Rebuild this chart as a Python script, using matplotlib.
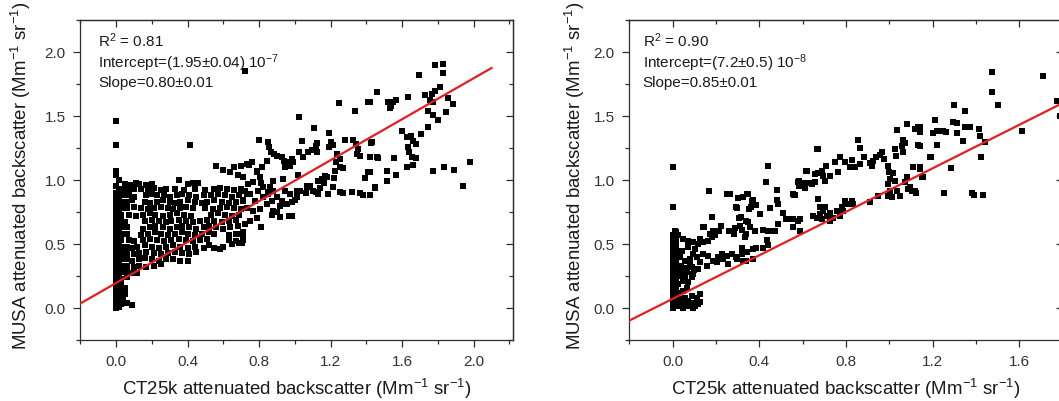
import matplotlib
matplotlib.use("Agg")
import matplotlib.pyplot as plt
from matplotlib.ticker import FixedLocator, MultipleLocator

plt.rcParams['font.family'] = ['Liberation Sans', 'DejaVu Sans']
plt.rcParams['mathtext.default'] = 'regular'

# ---------------- data ----------------
left_fit = (0.195, 0.80)     # intercept, slope (Mm-1 sr-1)
right_fit = (0.072, 0.85)
fit_x = [-0.2, 2.1]

left_xticks = [0.0, 0.4, 0.8, 1.2, 1.6, 2.0]
right_xticks = [0.0, 0.4, 0.8, 1.2, 1.6]
yticks = [0.0, 0.5, 1.0, 1.5, 2.0]

left_text = ["R$^{2}$ = 0.81", "Intercept=(1.95\u00b10.04) 10$^{-7}$", "Slope=0.80\u00b10.01"]
right_text = ["R$^{2}$ = 0.90", "Intercept=(7.2\u00b10.5) 10$^{-8}$", "Slope=0.85\u00b10.01"]

xlabel = "CT25k attenuated backscatter (Mm$^{-1}$ sr$^{-1}$)"
ylabel = "MUSA attenuated backscatter (Mm$^{-1}$ sr$^{-1}$)"

# left panel: saturated band at CT25k ~ 0
left_band_a_y = [0.00, 0.03, 0.07, 0.11, 0.15, 0.19, 0.22, 0.26, 0.30, 0.34, 0.38, 0.42, 0.46,
                 0.50, 0.54, 0.58, 0.62, 0.66, 0.70, 0.74, 0.78, 0.82, 0.86, 0.90, 0.95,
                 1.04, 1.07, 1.27, 1.46]
left_band_b_y = [0.01, 0.05, 0.09, 0.13, 0.17, 0.21, 0.25, 0.29, 0.33, 0.37, 0.41, 0.45, 0.49,
                 0.53, 0.57, 0.61, 0.65, 0.69, 0.73, 0.77, 0.81, 0.85, 0.89, 0.93, 1.00]

# left panel: dense cloud (x, y)
left_cloud = [
    (0.05, 0.97), (0.08, 0.96), (0.11, 0.98), (0.13, 0.97), (0.17, 0.96), (0.20, 0.97), (0.35, 1.00),
    (0.40, 0.97), (0.43, 0.98), (0.46, 0.98),
    (0.04, 0.93), (0.07, 0.92), (0.10, 0.93), (0.14, 0.93), (0.18, 0.92), (0.21, 0.94), (0.25, 0.92),
    (0.28, 0.93), (0.33, 0.93), (0.38, 0.92), (0.44, 0.93), (0.50, 0.92), (0.55, 0.93), (0.58, 0.94),
    (0.62, 0.93), (0.66, 0.92), (0.70, 0.93), (0.74, 0.97),
    (0.04, 0.88), (0.07, 0.88), (0.10, 0.87), (0.17, 0.88), (0.20, 0.89), (0.23, 0.88), (0.27, 0.88),
    (0.30, 0.87), (0.34, 0.88), (0.37, 0.89), (0.41, 0.88), (0.45, 0.87), (0.49, 0.88), (0.53, 0.88),
    (0.57, 0.89), (0.61, 0.88), (0.65, 0.87), (0.69, 0.88), (0.73, 0.89),
    (0.03, 0.83), (0.06, 0.83), (0.09, 0.84), (0.16, 0.83), (0.19, 0.82), (0.23, 0.83), (0.26, 0.84),
    (0.30, 0.83), (0.33, 0.82), (0.36, 0.83), (0.40, 0.84), (0.44, 0.83), (0.48, 0.82), (0.51, 0.83),
    (0.55, 0.84), (0.59, 0.83), (0.63, 0.82), (0.67, 0.83), (0.71, 0.84),
    (0.03, 0.78), (0.06, 0.78), (0.10, 0.79), (0.14, 0.78), (0.18, 0.77), (0.21, 0.78), (0.25, 0.79),
    (0.29, 0.78), (0.32, 0.77), (0.36, 0.78), (0.39, 0.79), (0.43, 0.78), (0.50, 0.78), (0.54, 0.77),
    (0.58, 0.78), (0.62, 0.79), (0.66, 0.78), (0.70, 0.77),
    (0.03, 0.73), (0.07, 0.73), (0.11, 0.72), (0.15, 0.73), (0.19, 0.74), (0.22, 0.73), (0.26, 0.72),
    (0.30, 0.73), (0.34, 0.74), (0.38, 0.73), (0.42, 0.72), (0.53, 0.73), (0.57, 0.74), (0.61, 0.73),
    (0.65, 0.72), (0.69, 0.73),
    (0.03, 0.68), (0.05, 0.67), (0.16, 0.68), (0.20, 0.69), (0.24, 0.68), (0.28, 0.67), (0.31, 0.68),
    (0.35, 0.69), (0.39, 0.68), (0.43, 0.67), (0.47, 0.68), (0.51, 0.69), (0.55, 0.68), (0.59, 0.67),
    (0.63, 0.68), (0.67, 0.69),
    (0.03, 0.63), (0.06, 0.63), (0.15, 0.62), (0.19, 0.63), (0.22, 0.64), (0.26, 0.63), (0.30, 0.62),
    (0.34, 0.63), (0.37, 0.64), (0.41, 0.63), (0.45, 0.62), (0.49, 0.63), (0.52, 0.64), (0.56, 0.63),
    (0.60, 0.62), (0.64, 0.63), (0.68, 0.64),
    (0.03, 0.58), (0.06, 0.58), (0.14, 0.57), (0.18, 0.58), (0.22, 0.59), (0.25, 0.58), (0.29, 0.57),
    (0.33, 0.58), (0.37, 0.59), (0.40, 0.58), (0.44, 0.57), (0.48, 0.58), (0.52, 0.59), (0.55, 0.58),
    (0.63, 0.57), (0.67, 0.58), (0.71, 0.59),
    (0.03, 0.53), (0.07, 0.53), (0.10, 0.52), (0.15, 0.53), (0.19, 0.54), (0.23, 0.53), (0.27, 0.52),
    (0.31, 0.53), (0.35, 0.54), (0.39, 0.53), (0.43, 0.52), (0.47, 0.53), (0.51, 0.54), (0.63, 0.53),
    (0.67, 0.52), (0.71, 0.53),
    (0.03, 0.48), (0.06, 0.48), (0.09, 0.47), (0.12, 0.48), (0.16, 0.49), (0.20, 0.48), (0.24, 0.47),
    (0.28, 0.48), (0.32, 0.49), (0.36, 0.48), (0.40, 0.47), (0.44, 0.48), (0.49, 0.47), (0.52, 0.49),
    (0.55, 0.47), (0.58, 0.46), (0.60, 0.48), (0.65, 0.50), (0.69, 0.51),
    (0.03, 0.43), (0.06, 0.43), (0.10, 0.42), (0.13, 0.43), (0.17, 0.44), (0.21, 0.43), (0.25, 0.42),
    (0.29, 0.43), (0.33, 0.44), (0.37, 0.43), (0.41, 0.42), (0.45, 0.44),
    (0.03, 0.38), (0.06, 0.38), (0.09, 0.37), (0.13, 0.38), (0.16, 0.39), (0.20, 0.38), (0.24, 0.37),
    (0.28, 0.38), (0.32, 0.38), (0.36, 0.37), (0.40, 0.37),
    (0.03, 0.33), (0.06, 0.33), (0.10, 0.32), (0.13, 0.33), (0.17, 0.32), (0.21, 0.33), (0.25, 0.34),
    (0.03, 0.28), (0.06, 0.28), (0.09, 0.27), (0.12, 0.27),
    (0.03, 0.23), (0.06, 0.24), (0.03, 0.18), (0.05, 0.16), (0.03, 0.13), (0.05, 0.11),
    (0.04, 0.07), (0.03, 0.03), (0.06, 0.04), (0.09, 0.02),
]

# left panel: mid / upper region (x, y)
left_mid = [
    (0.72, 1.855), (0.414, 1.276), (0.56, 1.11), (0.60, 1.08), (0.64, 1.06), (0.66, 1.10), (0.70, 1.11),
    (0.745, 1.12), (0.68, 1.04), (0.79, 1.06), (0.81, 0.98), (0.85, 0.91), (0.88, 0.99),
    (0.731, 1.125), (0.759, 1.138), (0.787, 1.073), (0.815, 1.099), (0.843, 1.151), (0.805, 1.020),
    (0.768, 0.981), (0.712, 1.020), (0.721, 0.916), (0.749, 0.890), (0.796, 0.916), (0.824, 0.942),
    (0.861, 0.942), (0.880, 0.916), (0.899, 0.864), (0.927, 0.838), (0.955, 0.812), (0.983, 0.825),
    (0.917, 0.799), (0.871, 0.838), (0.843, 0.812), (0.805, 0.773), (0.768, 0.760), (0.731, 0.785),
    (0.712, 0.838), (0.777, 0.838), (0.824, 0.864), (0.852, 0.890), (0.936, 1.008), (0.945, 0.916),
    (0.973, 0.890), (0.749, 0.681), (0.787, 0.707), (0.721, 0.655), (0.694, 0.577), (1.011, 0.916),
    (1.011, 0.864), (0.809, 0.629), (0.986, 0.720), (0.917, 0.713), (0.876, 0.754), (0.712, 0.551),
    (0.703, 0.511), (0.87, 0.73),
    (0.800, 1.316), (1.040, 1.302), (1.023, 1.496), (1.107, 1.404), (1.191, 1.365), (1.126, 1.287),
    (1.117, 1.269), (1.201, 1.295), (1.215, 1.276), (1.193, 1.255), (1.283, 1.313), (1.327, 1.313),
    (1.342, 1.282), (1.355, 1.243), (1.346, 1.204), (1.365, 1.190), (1.424, 1.292), (0.857, 1.255),
    (0.865, 1.216), (0.884, 1.204), (0.899, 1.190), (0.927, 1.177), (0.941, 1.151), (0.964, 1.138),
    (0.982, 1.164), (0.973, 1.112), (0.992, 1.138), (1.022, 1.222), (1.048, 1.182), (1.076, 1.216),
    (1.094, 1.235), (1.122, 1.216), (1.234, 1.204), (1.253, 1.164), (1.230, 1.138), (1.253, 1.099),
    (1.271, 1.094), (1.225, 1.073), (1.221, 1.016), (1.408, 1.065), (1.393, 1.016), (1.449, 0.937),
    (1.461, 1.177), (0.85, 1.30), (0.945, 1.10), (1.02, 1.04),
    (1.029, 0.916), (1.067, 0.942), (1.085, 0.955), (1.103, 0.916), (1.131, 0.890), (1.150, 1.008),
    (1.178, 1.026), (1.187, 0.890), (1.215, 0.942), (1.253, 0.903), (1.271, 0.895), (1.318, 0.903),
    (1.365, 0.895), (1.383, 0.882), (1.421, 0.882), (1.131, 0.994), (1.169, 1.034), (1.14, 0.94),
    (1.165, 0.98), (1.07, 0.95), (1.12, 0.91), (1.06, 0.90), (0.90, 0.75), (0.97, 0.72), (0.94, 0.81),
    (1.00, 0.84),
]

# left panel: high-x region (x, y)
left_high = [
    (1.249, 1.600), (1.337, 1.543), (1.408, 1.613), (1.784, 1.895), (1.827, 1.908), (1.827, 1.835),
    (1.696, 1.817), (1.458, 1.691), (1.812, 1.725), (1.784, 1.694), (1.766, 1.673), (1.728, 1.668),
    (1.756, 1.626), (1.771, 1.608), (1.859, 1.642), (1.883, 1.595), (1.635, 1.652), (1.523, 1.608),
    (1.536, 1.582), (1.551, 1.608), (1.566, 1.626), (1.532, 1.564), (1.421, 1.608), (1.743, 1.543),
    (1.775, 1.504), (1.799, 1.470), (1.844, 1.529), (1.747, 1.412), (1.704, 1.360), (1.598, 1.381),
    (1.626, 1.334), (1.648, 1.347), (1.663, 1.308), (1.678, 1.282), (1.635, 1.255), (1.640, 1.216),
    (1.654, 1.177), (1.678, 1.172), (1.663, 1.120), (1.626, 1.099), (1.430, 1.294), (1.421, 1.177),
    (1.467, 1.172), (1.556, 1.172), (1.421, 1.060), (1.517, 1.073), (1.566, 1.039), (1.517, 0.989),
    (1.449, 0.942), (1.421, 0.885), (1.775, 1.073), (1.834, 1.099), (1.892, 1.081), (1.980, 1.143),
    (1.943, 0.950),
]

# right panel: band at CT25k ~ 0
right_band_a_y = [0.00, 0.04, 0.08, 0.12, 0.16, 0.20, 0.24, 0.28, 0.32, 0.36, 0.40, 0.44, 0.48,
                  0.52, 0.57, 0.79, 1.10]
right_band_b_y = [0.02, 0.06, 0.10, 0.14, 0.18, 0.22, 0.26, 0.30, 0.34, 0.38, 0.42, 0.46, 0.50,
                  0.55, 0.59]

# right panel: low-x region (x, y)
right_low = [
    (0.010, 0.600), (0.026, 0.569), (0.049, 0.543), (0.072, 0.526), (0.095, 0.513), (0.118, 0.500),
    (0.141, 0.513), (0.164, 0.526), (0.180, 0.551), (0.195, 0.569), (0.187, 0.603), (0.172, 0.577),
    (0.126, 0.543), (0.018, 0.448), (0.041, 0.448), (0.072, 0.474), (0.103, 0.461),
    (0.033, 0.396), (0.057, 0.370), (0.080, 0.383), (0.095, 0.422), (0.110, 0.396), (0.126, 0.357),
    (0.088, 0.318), (0.064, 0.279), (0.095, 0.266), (0.118, 0.305), (0.157, 0.331), (0.187, 0.370),
    (0.210, 0.396), (0.234, 0.383), (0.249, 0.409), (0.272, 0.422), (0.226, 0.422), (0.295, 0.383),
    (0.318, 0.422), (0.341, 0.435), (0.326, 0.370), (0.257, 0.344), (0.203, 0.357), (0.164, 0.409),
    (0.141, 0.422), (0.29, 0.40), (0.32, 0.47), (0.37, 0.46), (0.384, 0.47), (0.415, 0.47),
    (0.44, 0.49), (0.37, 0.38), (0.34, 0.37),
    (0.018, 0.305), (0.033, 0.253), (0.049, 0.214), (0.026, 0.188), (0.064, 0.160), (0.041, 0.279),
    (0.057, 0.240), (0.04, 0.33), (0.06, 0.31), (0.08, 0.34), (0.10, 0.30), (0.07, 0.20),
    (0.09, 0.24),
    (0.026, 0.016), (0.049, 0.003), (0.072, 0.016), (0.095, 0.003), (0.118, 0.029), (0.110, 0.082),
    (0.126, 0.108), (0.088, 0.095), (0.057, 0.082), (0.033, 0.068), (0.026, 0.121), (0.049, 0.134),
    (0.072, 0.055), (0.095, 0.042), (0.041, 0.029), (0.105, 0.015), (0.125, 0.050),
    (0.169, 0.911), (0.264, 0.890), (0.349, 0.893), (0.326, 0.864), (0.364, 0.838), (0.384, 0.807),
    (0.295, 0.778), (0.353, 0.773), (0.403, 0.734), (0.180, 0.713), (0.138, 0.629), (0.223, 0.642),
    (0.307, 0.707), (0.349, 0.673), (0.311, 0.642), (0.288, 0.624), (0.264, 0.603), (0.318, 0.608),
    (0.338, 0.582), (0.357, 0.629), (0.380, 0.603), (0.334, 0.551), (0.213, 0.60), (0.26, 0.60),
    (0.283, 0.58), (0.252, 0.89), (0.30, 0.86), (0.29, 0.79), (0.315, 0.71), (0.34, 0.68),
    (0.36, 0.79), (0.37, 0.84), (0.345, 0.89), (0.166, 0.917), (0.18, 0.71), (0.143, 0.63),
]

# right panel: mid region (x, y)
right_mid = [
    (0.441, 1.112), (0.431, 0.981), (0.483, 0.924), (0.580, 0.981), (0.564, 0.884), (0.449, 0.781),
    (0.480, 0.843), (0.487, 0.812), (0.508, 0.746), (0.546, 0.694), (0.580, 0.681), (0.554, 0.629),
    (0.487, 0.655), (0.441, 0.603), (0.472, 0.598), (0.418, 0.608), (0.434, 0.530), (0.454, 0.60),
    (0.415, 0.61), (0.524, 0.695), (0.555, 0.89), (0.586, 0.60), (0.583, 0.955), (0.617, 1.07),
    (0.60, 0.98), (0.63, 0.98), (0.656, 1.05), (0.672, 1.24), (0.672, 0.85), (0.68, 0.79),
    (0.664, 1.242), (0.857, 1.313), (0.864, 1.248), (1.034, 1.391), (1.080, 1.438), (1.118, 1.399),
    (1.133, 1.412), (1.141, 1.376), (1.064, 1.313), (1.072, 1.287), (1.057, 1.269), (1.026, 1.242),
    (1.064, 1.216), (1.030, 1.190), (1.130, 1.274), (1.187, 1.177), (0.772, 1.177), (0.749, 1.138),
    (0.795, 1.138), (0.826, 1.157), (0.818, 1.104), (0.841, 1.104), (0.864, 1.125), (0.883, 1.177),
    (0.911, 1.130), (0.918, 1.112), (0.926, 1.151), (0.938, 1.182), (0.956, 1.198), (0.968, 1.216),
    (0.975, 1.164), (0.995, 1.112), (1.000, 1.060), (1.018, 1.052), (1.026, 0.995), (1.003, 1.008),
    (0.995, 0.969), (0.707, 1.112), (0.687, 1.073), (0.695, 1.034), (0.672, 1.052), (0.726, 1.034),
    (0.703, 0.995), (0.764, 1.060), (0.621, 1.073), (0.584, 0.989), (0.611, 0.937), (0.641, 0.969),
    (0.657, 0.981), (0.560, 0.885), (1.080, 1.020), (1.072, 0.981), (1.095, 0.942), (1.118, 0.916),
    (1.111, 1.099), (1.141, 1.099), (1.156, 1.020),
    (0.672, 0.851), (0.649, 0.720), (0.664, 0.707), (0.680, 0.734), (0.695, 0.760), (0.687, 0.695),
    (0.711, 0.720), (0.726, 0.681), (0.741, 0.707), (0.757, 0.760), (0.780, 0.786), (0.795, 0.838),
    (0.803, 0.812), (0.826, 0.838), (0.834, 0.812), (0.787, 0.760), (0.772, 0.720), (0.726, 0.746),
    (0.703, 0.786), (0.911, 0.825), (0.949, 0.877), (0.995, 0.877), (1.003, 0.916), (1.010, 0.864),
    (1.034, 0.916), (1.049, 0.877), (1.087, 0.929), (1.103, 0.911), (1.123, 0.895), (0.554, 0.695),
    (0.587, 0.695), (0.557, 0.629),
]

# right panel: high-x region (x, y)
right_high = [
    (1.472, 1.843), (1.472, 1.691), (1.503, 1.587), (1.710, 1.811), (1.772, 1.621), (1.785, 1.50),
    (1.611, 1.381), (1.300, 1.587), (1.349, 1.543), (1.211, 1.469), (1.141, 1.417), (1.141, 1.386),
    (1.200, 1.365), (1.218, 1.386), (1.249, 1.386), (1.261, 1.373), (1.295, 1.457), (1.311, 1.443),
    (1.311, 1.365), (1.349, 1.417), (1.372, 1.417), (1.411, 1.399), (1.418, 1.347), (1.441, 1.294),
    (1.341, 1.302), (1.218, 1.274), (1.141, 1.269), (1.191, 1.177), (1.421, 1.177), (1.283, 1.094),
    (1.141, 1.086), (1.149, 1.021), (1.252, 0.895), (1.380, 0.895), (1.392, 0.885), (1.430, 0.885),
]

# ---------------- plotting ----------------
fig = plt.figure(figsize=(10.59, 4.01), dpi=100)
ax_l = fig.add_axes([0.0758, 0.1521, 0.4086, 0.7980])
ax_r = fig.add_axes([0.5943, 0.1521, 0.4093, 0.7980])

spine_c = '#2e2e2e'
tick_c = '#2e2e2e'
mk = dict(marker='s', ms=4.9, color='black', ls='none', mew=0)
line_c = '#e31f1f'


def style(ax, xticks, xlim, text, ylabel_x, text_x):
    ax.set_xlim(*xlim)
    ax.set_ylim(-0.25, 2.25)
    ax.xaxis.set_major_locator(FixedLocator(xticks))
    ax.yaxis.set_major_locator(FixedLocator(yticks))
    ax.xaxis.set_minor_locator(MultipleLocator(0.2))
    ax.yaxis.set_minor_locator(MultipleLocator(0.25))
    ax.set_xticklabels([f"{t:.1f}" for t in xticks])
    ax.set_yticklabels([f"{t:.1f}" for t in yticks])
    ax.tick_params(which='major', direction='out', length=5, width=0.9, color=tick_c,
                   labelsize=11, labelcolor='#333333', pad=5.5)
    ax.tick_params(which='minor', direction='out', length=3, width=0.9, color=tick_c)
    for s in ax.spines.values():
        s.set_color(spine_c)
        s.set_linewidth(0.9)
    top = ax.secondary_xaxis('top')
    top.xaxis.set_major_locator(FixedLocator(xticks))
    top.xaxis.set_minor_locator(MultipleLocator(0.2))
    top.tick_params(which='major', direction='in', length=5, width=0.9, color=tick_c, labeltop=False)
    top.tick_params(which='minor', direction='in', length=3, width=0.9, color=tick_c)
    top.spines['top'].set_color(spine_c)
    top.spines['top'].set_linewidth(0.9)
    right = ax.secondary_yaxis('right')
    right.yaxis.set_major_locator(FixedLocator(yticks))
    right.yaxis.set_minor_locator(MultipleLocator(0.25))
    right.tick_params(which='major', direction='in', length=5, width=0.9, color=tick_c, labelright=False)
    right.tick_params(which='minor', direction='in', length=3, width=0.9, color=tick_c)
    right.spines['right'].set_color(spine_c)
    right.spines['right'].set_linewidth(0.9)

    ax.set_xlabel(xlabel, fontsize=13.4, color='#1a1a1a')
    ax.set_ylabel(ylabel, fontsize=13.4, color='#1a1a1a')
    ax.xaxis.label.set_va('center')
    ax.xaxis.set_label_coords(0.5, -0.152)
    ax.yaxis.label.set_va('center')
    ax.yaxis.set_label_coords(ylabel_x, 0.515)

    ys = [0.917, 0.849, 0.792]
    for t, yy in zip(text, ys):
        ax.text(text_x, yy, t, transform=ax.transAxes,
                fontsize=11, color='#1a1a1a', va='baseline', ha='left')


# left panel
ax_l.plot([0.0] * len(left_band_a_y), left_band_a_y, **mk)
ax_l.plot([0.014] * len(left_band_b_y), left_band_b_y, **mk)
ax_l.plot([p[0] for p in left_cloud], [p[1] for p in left_cloud], **mk)
ax_l.plot([p[0] for p in left_mid], [p[1] for p in left_mid], **mk)
ax_l.plot([p[0] for p in left_high], [p[1] for p in left_high], **mk)
ax_l.plot(fit_x, [left_fit[0] + left_fit[1] * v for v in fit_x], color=line_c, lw=1.6, zorder=5)
style(ax_l, left_xticks, (-0.2, 2.22), left_text, -0.137, 0.0416)

# right panel
ax_r.plot([0.0] * len(right_band_a_y), right_band_a_y, **mk)
ax_r.plot([0.015] * len(right_band_b_y), right_band_b_y, **mk)
ax_r.plot([p[0] for p in right_low], [p[1] for p in right_low], **mk)
ax_r.plot([p[0] for p in right_mid], [p[1] for p in right_mid], **mk)
ax_r.plot([p[0] for p in right_high], [p[1] for p in right_high], **mk)
ax_r.plot(fit_x, [right_fit[0] + right_fit[1] * v for v in fit_x], color=line_c, lw=1.6, zorder=5)
style(ax_r, right_xticks, (-0.2, 1.8), right_text, -0.126, 0.0307)

fig.savefig("out.png", dpi=100)
